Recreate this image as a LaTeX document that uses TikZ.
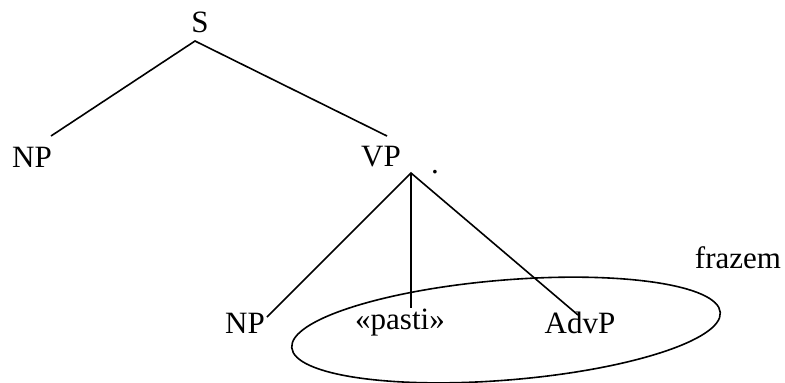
\documentclass[tikz,border=0pt]{standalone}
\usepackage{fontspec}
\setmainfont{Liberation Serif}
\usetikzlibrary{positioning}

\begin{document}
\begin{tikzpicture}[x=0.5pt, y=-0.5pt, cat/.style={inner sep=0pt, font=\fontsize{15.5}{18}\selectfont}, branch/.style={line width=0.8pt}]
        \useasboundingbox (0,0) rectangle (785,382);

        \node[cat] (S) at (200,22) {S};
        \node[cat] (np1) at (32,157) {NP};
        \node[cat] (vp) at (381,157) {VP};
        \node[cat] (dot) at (435,172) {.};
        \node[cat] (np2) at (245,323) {NP};
        \node[cat] (pasti) at (400,323) {«pasti»};
        \node[cat] (advp) at (580,323) {AdvP};
        \node[cat] (frazem) at (738,258) {frazem};

        \coordinate (s-foot) at (195,41);
        \coordinate (np1-top) at (51,136);
        \coordinate (vp-top) at (387,136);
        \coordinate (vp-foot) at (411,173);
        \coordinate (np2-top) at (267,317);
        \coordinate (pasti-top) at (411,308);
        \coordinate (advp-top) at (578,315);

        \draw[branch] (np1-top) -- (s-foot) -- (vp-top);
        \draw[branch] (np2-top) -- (vp-foot) -- (advp-top);
        \draw[branch] (vp-foot) -- (pasti-top);

        \draw[branch, rotate around={4.7:(506,330)}] (506,330) ellipse (215 and 50);
    \end{tikzpicture}
\end{document}
